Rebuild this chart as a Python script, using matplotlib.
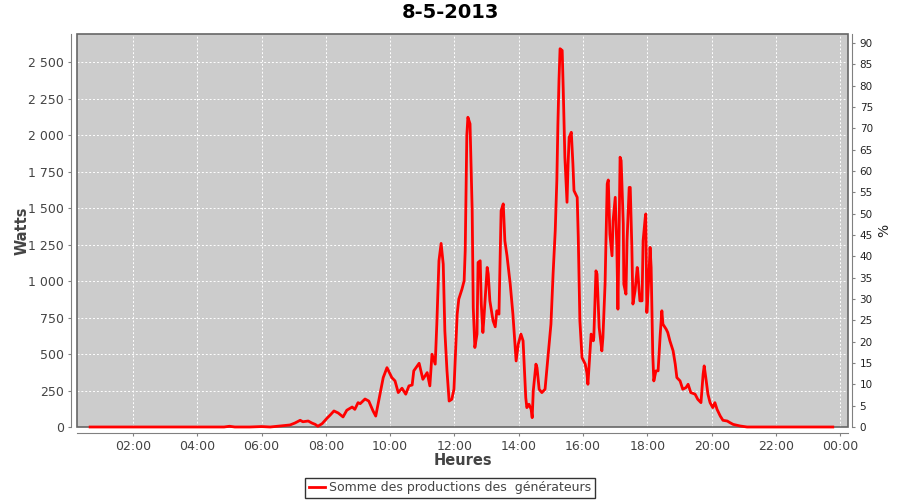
import matplotlib
matplotlib.use("Agg")
import matplotlib.pyplot as plt
from matplotlib.patches import Rectangle
from matplotlib.ticker import FuncFormatter, MultipleLocator

# donnees (heure, puissance en W)
heures = ["00:40", "02:30", "04:50", "05:00", "05:10", "05:38", "06:00", "06:16", "06:34",
          "06:53", "07:02", "07:12", "07:17", "07:27", "07:34", "07:40", "07:45", "07:53",
          "08:02", "08:08", "08:15", "08:23", "08:32", "08:39", "08:49", "08:54", "09:00",
          "09:04", "09:13", "09:20", "09:28", "09:33", "09:41", "09:47", "09:54", "10:03",
          "10:09", "10:15", "10:22", "10:29", "10:35", "10:41", "10:44", "10:54", "11:01",
          "11:09", "11:14", "11:18", "11:24", "11:27", "11:31", "11:35", "11:39", "11:42",
          "11:46", "11:50", "11:55", "11:59", "12:05", "12:08", "12:14", "12:18", "12:20",
          "12:23", "12:25", "12:29", "12:33", "12:35", "12:38", "12:42", "12:44", "12:48",
          "12:50", "12:53", "12:55", "13:01", "13:03", "13:06", "13:12", "13:16", "13:19",
          "13:23", "13:27", "13:31", "13:34", "13:38", "13:44", "13:49", "13:55", "13:59",
          "14:04", "14:08", "14:10", "14:13", "14:15", "14:19", "14:23", "14:25", "14:27",
          "14:32", "14:34", "14:38", "14:43", "14:49", "14:55", "15:00", "15:04", "15:08",
          "15:11", "15:13", "15:15", "15:17", "15:21", "15:23", "15:26", "15:30", "15:32",
          "15:34", "15:38", "15:41", "15:43", "15:49", "15:51", "15:54", "15:58", "16:04",
          "16:07", "16:09", "16:15", "16:19", "16:20", "16:24", "16:26", "16:30", "16:35",
          "16:37", "16:41", "16:45", "16:47", "16:50", "16:54", "16:56", "17:00", "17:03",
          "17:05", "17:07", "17:09", "17:11", "17:15", "17:16", "17:20", "17:22", "17:26",
          "17:28", "17:31", "17:33", "17:37", "17:41", "17:42", "17:46", "17:50", "17:52",
          "17:56", "17:57", "17:59", "18:03", "18:05", "18:07", "18:10", "18:12", "18:16",
          "18:20", "18:24", "18:27", "18:29", "18:35", "18:38", "18:42", "18:48", "18:52",
          "18:55", "19:01", "19:06", "19:12", "19:16", "19:21", "19:29", "19:34", "19:40",
          "19:44", "19:46", "19:49", "19:53", "19:57", "20:02", "20:06", "20:10", "20:16",
          "20:21", "20:29", "20:34", "20:40", "20:53", "21:06", "23:46"]
watts = [0, 0, 0, 5, 0, 0, 3, 0, 7,
         14, 27, 46, 36, 41, 27, 18, 5, 23,
         60, 82, 110, 96, 69, 115, 137, 121, 167,
         160, 192, 178, 110, 75, 224, 339, 407, 339,
         316, 236, 266, 225, 282, 288, 385, 437, 327,
         373, 282, 499, 431, 705, 1140, 1259, 1117, 659,
         385, 178, 190, 260, 774, 877, 946, 1003, 1209,
         1999, 2124, 2079, 1483, 819, 545, 637, 1128, 1140,
         843, 648, 751, 1094, 1049, 865, 728, 687, 797,
         774, 1483, 1530, 1277, 1174, 980, 774, 453, 568,
         637, 591, 431, 201, 133, 156, 121, 64, 247,
         431, 407, 259, 236, 259, 499, 705, 1049, 1346,
         1690, 2079, 2376, 2594, 2582, 2308, 1850, 1541, 1804,
         1987, 2021, 1804, 1621, 1575, 1300, 728, 476, 431,
         373, 293, 637, 591, 613, 1071, 1049, 682, 522,
         613, 980, 1667, 1694, 1323, 1174, 1415, 1575, 1232,
         808, 1277, 1850, 1827, 1392, 980, 911, 1277, 1643,
         1643, 1232, 843, 934, 1094, 1071, 865, 865, 1277,
         1437, 1461, 785, 1049, 1232, 1094, 499, 316, 385,
         385, 637, 797, 705, 671, 648, 591, 522, 431,
         339, 316, 259, 270, 293, 236, 225, 190, 167,
         362, 419, 339, 225, 167, 133, 167, 121, 75,
         46, 41, 30, 18, 7, 0, 0]

puissance_crete = 2925  # W, pour l'axe en %
titre = "8-5-2013"
legende = "Somme des productions des  générateurs"

t = [int(h[:2]) + int(h[3:]) / 60 for h in heures]

fig = plt.figure(figsize=(9, 5), dpi=100)
ax = fig.add_axes([77 / 900, 1 - 427 / 500, 771 / 900, 393 / 500])
ax.set_facecolor("#cccccc")

ax.plot(t, watts, color="#ff0000", lw=2, label=legende, solid_joinstyle="round",
        clip_on=False, zorder=6)

ax.set_xlim(0.258, 24.24)
ax.set_ylim(0, 2695)

ax.xaxis.set_major_locator(MultipleLocator(2))
ax.xaxis.set_major_formatter(FuncFormatter(lambda v, p: "%02d:00" % (int(round(v)) % 24)))
ax.yaxis.set_major_locator(MultipleLocator(250))
ax.yaxis.set_major_formatter(FuncFormatter(lambda v, p: "{:,}".format(int(v)).replace(",", " ")))

ax.grid(True, color="white", linestyle=(0, (2, 2)), linewidth=0.7)

for s in ["top", "right"]:
    ax.spines[s].set_visible(False)
for s in ["left", "bottom"]:
    ax.spines[s].set_position(("outward", 4))
    ax.spines[s].set_color("#808080")
ax.add_patch(Rectangle((0, 0), 1, 1, transform=ax.transAxes, fill=False,
                       edgecolor="#666666", lw=1.2, clip_on=False, zorder=5))

ax.tick_params(colors="#808080", labelcolor="#444444", labelsize=9, length=2, width=0.8)

ax2 = ax.secondary_yaxis(1 + 4 / 771, functions=(lambda w: w * 100 / puissance_crete,
                                                 lambda p: p * puissance_crete / 100))
ax2.yaxis.set_major_locator(MultipleLocator(5))
ax2.spines["right"].set_color("#808080")
ax2.tick_params(colors="#808080", labelcolor="#222222", labelsize=7.5, length=2, width=0.8)
ax2.set_ylabel("%", fontsize=10, color="#222222", labelpad=3)

ax.set_xlabel("Heures", fontsize=10.5, fontweight="bold", color="#444444", labelpad=0)
ax.set_ylabel("Watts", fontsize=10.5, fontweight="bold", color="#444444", labelpad=-1)
fig.suptitle(titre, fontsize=14, fontweight="bold", y=0.995)

leg = fig.legend(loc="lower center", bbox_to_anchor=(0.5, 0.004), fontsize=9,
                 frameon=True, fancybox=False, edgecolor="black", handlelength=1.3,
                 borderpad=0.3, handletextpad=0.3, borderaxespad=0)
leg.get_frame().set_linewidth(1)
for txt in leg.get_texts():
    txt.set_color("#444444")

fig.savefig("out.png", dpi=100)
